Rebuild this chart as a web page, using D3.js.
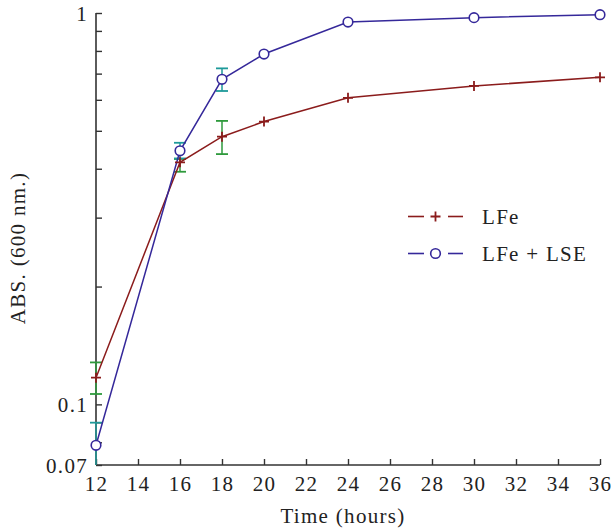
<!DOCTYPE html>
<html><head><meta charset="utf-8">
<script src="https://cdn.jsdelivr.net/npm/d3@7"></script>
<style>body{margin:0;background:#fff}svg{display:block}text{font-family:"Liberation Serif","DejaVu Serif",serif;fill:#222;letter-spacing:1.3px}</style>
</head><body>
<svg id="c" width="615" height="530"></svg>
<script>
const hours = [12, 16, 18, 20, 24, 30, 36];
const lfe = [0.117, 0.4155, 0.483, 0.528, 0.607, 0.651, 0.685];
const lfeLow = [0.1063, 0.393, 0.436, null, null, null, null];
const lfeHigh = [0.128, 0.4236, 0.53, null, null, null, null];
const lse = [0.0786, 0.4446, 0.677, 0.7855, 0.948, 0.973, 0.99];
const lseLow = [0.0688, 0.425, 0.632, null, null, null, null];
const lseHigh = [0.0898, 0.466, 0.722, null, null, null, null];
const xTicks = [12,14,16,18,20,22,24,26,28,30,32,34,36];
const yLabeled = [0.07, 0.1, 1];
const yMinor = [0.08, 0.09, 0.2, 0.3, 0.4, 0.5, 0.6, 0.7, 0.8, 0.9];
const seriesNames = ["LFe", "LFe + LSE"];

const svg = d3.select("#c");
const x = d3.scaleLinear().domain([12, 36]).range([96, 600]);
const y = d3.scaleLog().domain([0.07, 1]).range([465, 13]);
const axisColor = "#333";
const FS = "21px";

const g = svg.append("g");
svg.append("clipPath").attr("id","clp").append("rect").attr("x",90).attr("y",5).attr("width",520).attr("height",460);

const xAxis = g.append("g").attr("transform","translate(0,465)")
  .call(d3.axisBottom(x).tickValues(xTicks).tickSize(-6).tickPadding(11).tickFormat(d3.format("d")));
const yAxis = g.append("g").attr("transform","translate(96,0)")
  .call(d3.axisLeft(y).tickValues(yLabeled.concat(yMinor)).tickSize(-6).tickPadding(8)
    .tickFormat(d => yLabeled.includes(d) ? String(d) : ""));
[xAxis, yAxis].forEach(a => {
  a.attr("font-family", null).attr("font-size", null);
  a.select(".domain").attr("stroke", axisColor).attr("stroke-width", 1.6);
  a.selectAll(".tick line").attr("stroke", axisColor).attr("stroke-width", 1.4);
  a.selectAll(".tick text").style("font-size",FS).attr("fill","#222");
});
yAxis.select(".domain").attr("d","M0,465V13");
xAxis.select(".domain").attr("d","M96,0H600");
yAxis.selectAll(".tick text").attr("dy","0.35em");

svg.append("text").attr("x",343).attr("y",523).attr("text-anchor","middle").style("font-size",FS).text("Time (hours)");
svg.append("text").attr("transform","translate(25,248) rotate(-90)").attr("text-anchor","middle").style("font-size",FS).text("ABS. (600 nm.)");

const red = "#8b1c1c", blue = "#35289a", green = "#2e9a3c", cyan = "#1e9a9a";
const line = d3.line().x((d,i)=>x(hours[i])).y(d=>y(d));
const plot = svg.append("g").attr("clip-path","url(#clp)");

function errBars(lo, hi, col){
  hours.forEach((h,i)=>{
    if(lo[i]==null) return;
    const cx = x(h), w = 6;
    [lo[i], hi[i]].forEach(v=>{
      const yy = y(v);
      if (yy > 465.5) return;
      plot.append("line").attr("x1",cx-w).attr("x2",cx+w).attr("y1",yy).attr("y2",yy).attr("stroke",col).attr("stroke-width",1.8);
    });
    plot.append("line").attr("x1",cx).attr("x2",cx).attr("y1",Math.min(y(lo[i]),465)).attr("y2",y(hi[i])).attr("stroke",col).attr("stroke-width",1.5);
  });
}
errBars(lfeLow, lfeHigh, green);
errBars(lseLow, lseHigh, cyan);

plot.append("path").datum(lfe).attr("d",line).attr("fill","none").attr("stroke",red).attr("stroke-width",1.5);
plot.append("path").datum(lse).attr("d",line).attr("fill","none").attr("stroke",blue).attr("stroke-width",1.5);

function plus(sel, cx, cy, col){
  sel.append("path").attr("d",`M${cx-5},${cy}H${cx+5}M${cx},${cy-5}V${cy+5}`).attr("stroke",col).attr("stroke-width",1.8).attr("fill","none");
}
function circ(sel, cx, cy, col){
  sel.append("circle").attr("cx",cx).attr("cy",cy).attr("r",4.8).attr("fill","#fff").attr("stroke",col).attr("stroke-width",1.6);
}
lfe.forEach((v,i)=>plus(plot, x(hours[i]), y(v), red));
lse.forEach((v,i)=>circ(plot, x(hours[i]), y(v), blue));

const leg = svg.append("g");
[[red, plus, 216.5],[blue, circ, 253.5]].forEach(([col, mk, ly], k)=>{
  leg.append("line").attr("x1",408).attr("x2",424).attr("y1",ly).attr("y2",ly).attr("stroke",col).attr("stroke-width",1.6);
  leg.append("line").attr("x1",448).attr("x2",463).attr("y1",ly).attr("y2",ly).attr("stroke",col).attr("stroke-width",1.6);
  mk(leg, 435.5, ly, col);
  leg.append("text").attr("x",482).attr("y",ly).attr("dy","0.35em").style("font-size",FS).text(seriesNames[k]);
});
</script>
</body></html>
